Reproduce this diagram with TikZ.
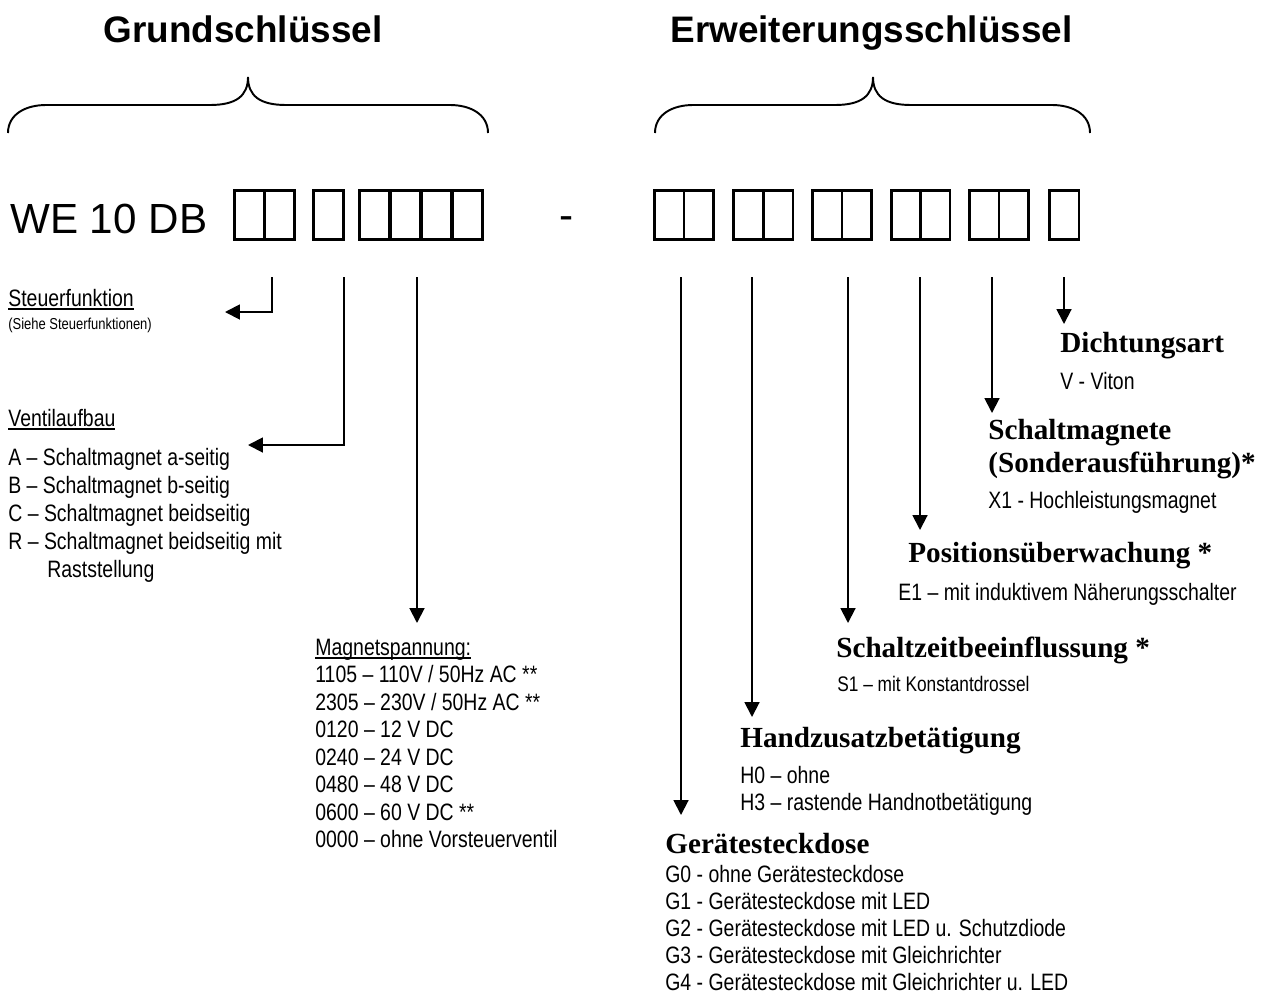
\documentclass[tikz,border=0pt]{standalone}
\usepackage{fontspec}
\setmainfont{Liberation Sans}
\newfontfamily\narrowfont[FakeStretch=0.82]{Liberation Sans}
\newfontfamily\serifhead{Liberation Serif}
\usetikzlibrary{arrows.meta}
\newcommand{\ulin}[1]{\setbox0\hbox{#1}\rlap{\rule[-2.2pt]{\wd0}{0.9pt}}#1}
\tikzset{
  tofu/.style={draw,line width=1.6pt,anchor=north west,inner sep=0pt,minimum height=0.98cm},
  arr/.style={line width=1.1pt,-{Triangle[length=8.5pt,width=8.5pt]}},
  brace/.style={line width=1.1pt},
  title/.style={font=\fontsize{21}{25}\selectfont\bfseries,anchor=base,inner sep=0pt},
  item/.style={font=\narrowfont\fontsize{13.5}{16}\selectfont,anchor=base west,inner sep=0pt},
  small/.style={font=\narrowfont\fontsize{9}{11}\selectfont,anchor=base west,inner sep=0pt},
  head/.style={font=\serifhead\bfseries\fontsize{16.6}{20}\selectfont,anchor=base west,inner sep=0pt}
}
\begin{document}
\begin{tikzpicture}[x=0.02cm,y=-0.02cm]
\useasboundingbox (0,0) rectangle (1263,994);
% titles and braces
\node[title] (grund) at (243,42) {Grundschlüssel};
\node[title] (erw) at (871.5,42) {Erweiterungsschlüssel};
\draw[brace] (8,133) .. controls (8,114) and (26,105) .. (46,105) -- (210,105) .. controls (236,105) and (248,96) .. (248,77);
\draw[brace] (248,77) .. controls (248,96) and (260,105) .. (286,105) -- (450,105) .. controls (470,105) and (488,114) .. (488,133);
\draw[brace] (655,133) .. controls (655,114) and (673,105) .. (693,105) -- (835,105) .. controls (861,105) and (873,96) .. (873,77);
\draw[brace] (873,77) .. controls (873,96) and (885,105) .. (911,105) -- (1052,105) .. controls (1072,105) and (1090,114) .. (1090,133);
% type code
\node[font=\fontsize{24}{28}\selectfont,anchor=base west,inner sep=0pt] (typ) at (10,233) {WE 10 DB};
\foreach \x [count=\i] in {233,263,312,358,389,420,451}
  \node[tofu,minimum width=0.6cm] (lb\i) at (\x,189) {};
\node[font=\fontsize{24}{28}\selectfont,anchor=base west,inner sep=0pt] (dash) at (559,229) {-};
\foreach \x [count=\i] in {653,682.5,732,762,811,840.5,890,919,968,997.5,1048}
  \node[tofu,minimum width=0.59cm] (rb\i) at (\x,189) {};
% arrows
\coordinate (sfA) at (272,277);
\coordinate (sfB) at (225,312);
\draw[arr] (sfA) |- (sfB);
\coordinate (vaA) at (344,277);
\coordinate (vaB) at (248,445);
\draw[arr] (vaA) |- (vaB);
\coordinate (msA) at (417,277);
\coordinate (msB) at (417,623);
\draw[arr] (msA) -- (msB);
\foreach \x/\y [count=\i] in {681/815,752/717,848/623,920/530,992/413,1064/324}{
  \coordinate (ea\i) at (\x,277);
  \coordinate (eb\i) at (\x,\y);
  \draw[arr] (ea\i) -- (eb\i);
}
% Grundschluessel texts
\node[item] (steuer) at (8,306) {\ulin{Steuerfunktion}};
\node[small] (siehe) at (8,329) {(Siehe Steuerfunktionen)};
\node[item] (ventil) at (8,426) {\ulin{Ventilaufbau}};
\foreach \t [count=\i from 0] in {A – Schaltmagnet a-seitig,B – Schaltmagnet b-seitig,C – Schaltmagnet beidseitig,R – Schaltmagnet beidseitig mit}
  \node[item] (v\i) at (8,465+28*\i) {\t};
\node[item] (rast) at (47,577) {Raststellung};
\node[item] (magnet) at (315,655) {\ulin{Magnetspannung:}};
\foreach \t [count=\i] in {1105 – 110V / 50Hz AC **,2305 – 230V / 50Hz AC **,0120 – 12 V DC,0240 – 24 V DC,0480 – 48 V DC,0600 – 60 V DC **,0000 – ohne Vorsteuerventil}
  \node[item] (m\i) at (315,655+27.5*\i) {\t};
% Erweiterungsschluessel texts
\node[head] (dicht) at (1060,352) {Dichtungsart};
\node[item] (viton) at (1060,389) {V - Viton};
\node[head] (schalt) at (988,439) {Schaltmagnete};
\node[head] (sonder) at (988,472) {(Sonderausführung)*};
\node[item] (x1) at (988,508) {X1 - Hochleistungsmagnet};
\node[head] (pos) at (908,562) {Positionsüberwachung *};
\node[item] (e1) at (898,600) {E1 – mit induktivem Näherungsschalter};
\node[head] (szeit) at (836,657) {Schaltzeitbeeinflussung *};
\node[item,font=\narrowfont\fontsize{12}{14}\selectfont] (s1) at (837,691) {S1 – mit Konstantdrossel};
\node[head] (hand) at (740,747) {Handzusatzbetätigung};
\node[item] (h0) at (740,783) {H0 – ohne};
\node[item] (h3) at (740,810) {H3 – rastende Handnotbetätigung};
\node[head] (geraet) at (665,853) {Gerätesteckdose};
\foreach \t [count=\i from 0] in {G0 - ohne Gerätesteckdose,G1 - Gerätesteckdose mit LED,G2 - Gerätesteckdose mit LED u. Schutzdiode,G3 - Gerätesteckdose mit Gleichrichter,G4 - Gerätesteckdose mit Gleichrichter u. LED}
  \node[item] (g\i) at (665,882+27*\i) {\t};
\end{tikzpicture}
\end{document}
